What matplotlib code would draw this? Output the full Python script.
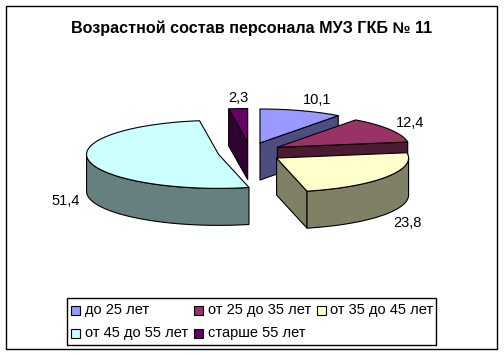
import matplotlib
matplotlib.use('Agg')
import matplotlib.pyplot as plt
import numpy as np

plt.rcParams['font.family'] = ['Liberation Sans', 'DejaVu Sans']

title = 'Возрастной состав персонала МУЗ ГКБ № 11'
labels = ['до 25 лет', 'от 25 до 35 лет', 'от 35 до 45 лет', 'от 45 до 55 лет', 'старше 55 лет']
values = [10.1, 12.4, 23.8, 51.4, 2.3]
value_labels = ['10,1', '12,4', '23,8', '51,4', '2,3']
top_colors = ['#9999FF', '#993366', '#FFFFCC', '#CCFFFF', '#660066']
side_colors = ['#4D4D80', '#4D1A33', '#808066', '#668080', '#330033']

# pie geometry, in pixels of the picture
W, H = 504, 355
cx, cy = 250, 152.5
rx, ry = 132, 34
depth = 37
off_x, off_y = 32, 10
start = 90
# drawn back to front
order = [4, 0, 3, 1, 2]
label_pos = [(317, 100), (410, 123), (407, 223), (66, 201), (238, 98)]

fig = plt.figure(figsize=(W / 100, H / 100), dpi=100)
ax = fig.add_axes([0, 0, 1, 1])
ax.set_xlim(0, W)
ax.set_ylim(H, 0)
ax.axis('off')

# chart frame
ax.add_patch(plt.Rectangle((5.5, 5.5), 491, 343.5, facecolor='white', edgecolor='black', linewidth=1))

# slices go clockwise from the start angle
ends = start - np.cumsum(values) * 3.6
starts = np.concatenate(([start], ends[:-1]))


def pt(x0, y0, deg):
    a = np.radians(deg)
    return x0 + rx * np.cos(a), y0 - ry * np.sin(a)


def poly(xs, ys, color):
    ax.fill(xs, ys, facecolor=color, edgecolor='black', linewidth=0.8, joinstyle='round')


for i in order:
    a0, a1 = starts[i], ends[i]
    mid = np.radians((a0 + a1) / 2)
    x0 = cx + off_x * np.cos(mid)
    y0 = cy - off_y * np.sin(mid)

    # cut faces, only those turned to the viewer
    for edge, normal in ((a1, a1 - 90), (a0, a0 + 90)):
        if np.sin(np.radians(normal)) < -0.01:
            ex, ey = pt(x0, y0, edge)
            poly([x0, ex, ex, x0], [y0, ey, ey + depth, y0 + depth], side_colors[i])

    # outer wall, lower half of the ellipse only
    aa = np.linspace(a1, a0, 200)
    aa = aa[np.sin(np.radians(aa)) <= 0]
    if len(aa) > 1:
        wx, wy = pt(x0, y0, aa)
        poly(np.concatenate((wx, wx[::-1])), np.concatenate((wy, wy[::-1] + depth)), side_colors[i])

    # top face
    aa = np.linspace(a1, a0, 200)
    tx, ty = pt(x0, y0, aa)
    poly(np.concatenate(([x0], tx)), np.concatenate(([y0], ty)), top_colors[i])

for i in range(len(values)):
    ax.text(label_pos[i][0], label_pos[i][1], value_labels[i], fontsize=10.5, ha='center', va='center', color='black')

ax.text(251.5, 28, title, fontsize=11.6, fontweight='bold', ha='center', va='center', color='black')

# legend
ax.add_patch(plt.Rectangle((66.5, 297.5), 369, 47.5, facecolor='white', edgecolor='black', linewidth=1))
leg_x = [71, 194, 316.5, 71, 194]
leg_y = [310, 310, 310, 333, 333]
for i in range(len(labels)):
    ax.add_patch(plt.Rectangle((leg_x[i], leg_y[i] - 4.5), 9, 9, facecolor=top_colors[i], edgecolor='black', linewidth=0.8))
    ax.text(leg_x[i] + 14, leg_y[i], labels[i], fontsize=10.5, ha='left', va='center', color='black')

fig.savefig('out.png', dpi=100)
